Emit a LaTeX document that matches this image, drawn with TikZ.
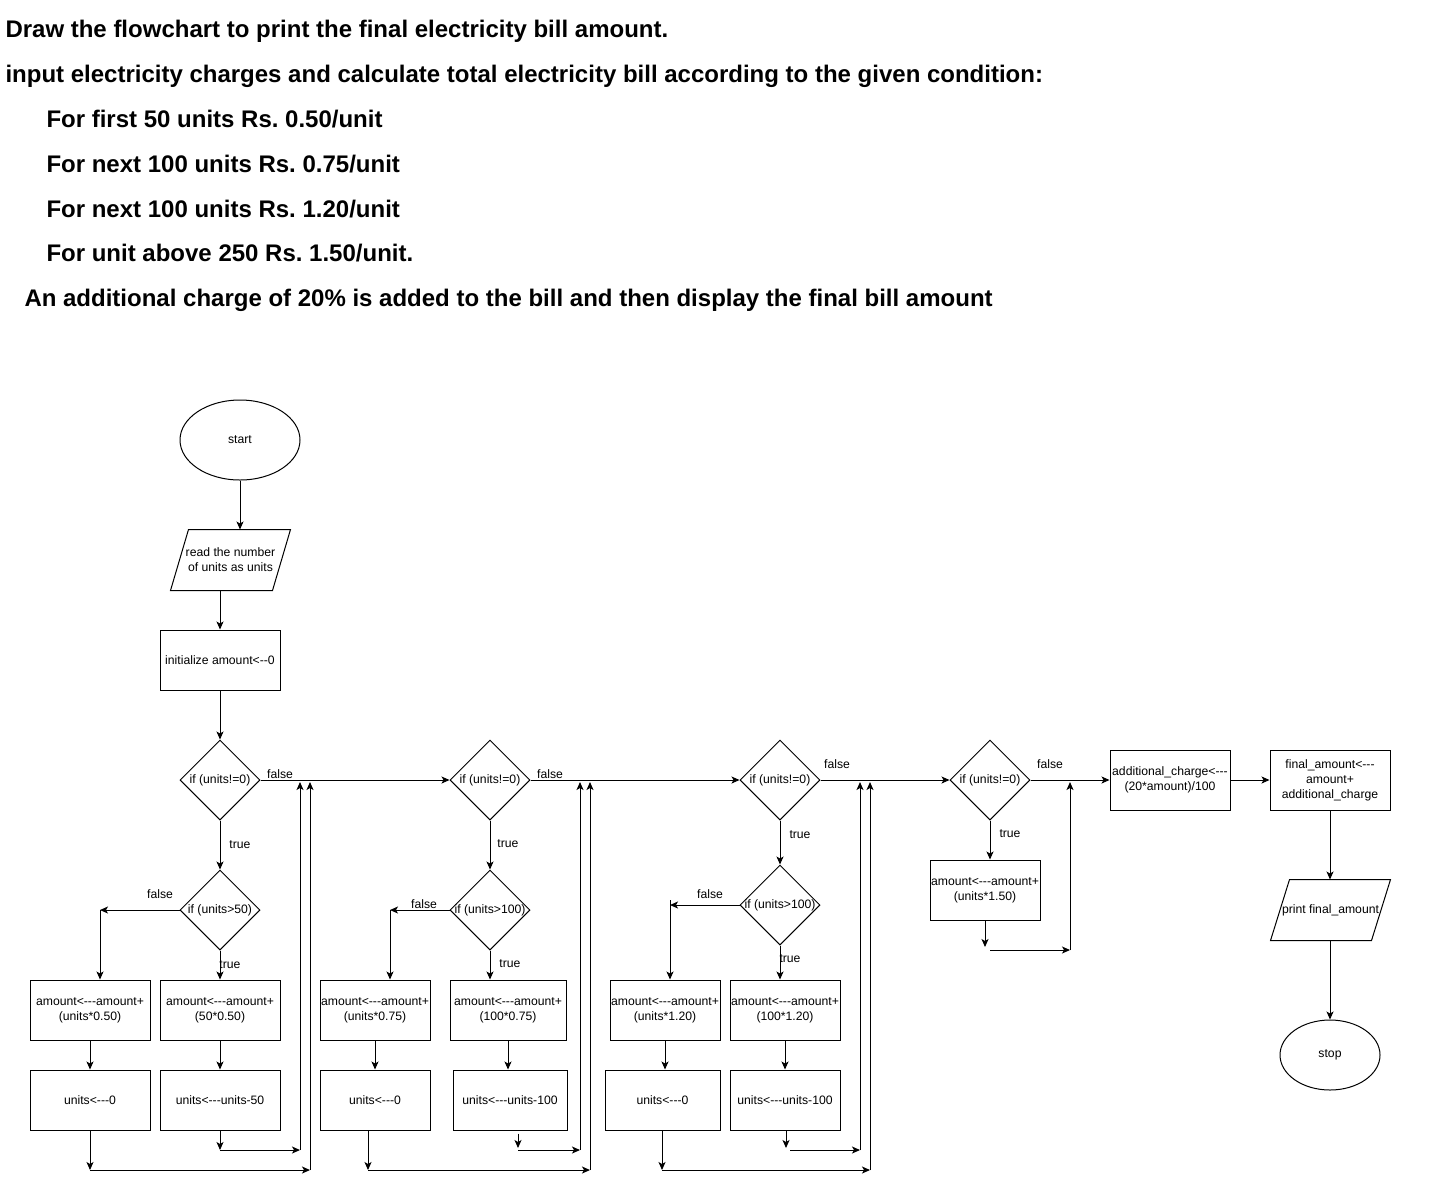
\documentclass[tikz,border=0pt]{standalone}
\usepackage{fontspec}
\setmainfont{Liberation Sans}[Ligatures=TeXOff]
\usetikzlibrary{arrows.meta,shapes.geometric}

\begin{document}
\frenchspacing
\begin{tikzpicture}[x=1pt,y=-1pt,
  line width=1pt,
  every node/.style={font=\fontsize{12.2}{15}\selectfont},
  arr/.style={-{Stealth[length=8pt,width=7pt,inset=2pt]}},
  proc/.style={draw, rectangle, minimum width=#1, minimum height=60pt, inner sep=0.5pt, align=center},
  proc/.default=120pt,
  dec/.style={draw, diamond, minimum width=80pt, minimum height=80pt, inner sep=0pt},
  term/.style={draw, ellipse, inner sep=0pt},
  io/.style={rectangle, minimum height=60pt, inner sep=0pt, align=center},
  lbl/.style={inner sep=0pt},
  head/.style={anchor=base west, inner sep=0pt, font=\fontsize{24}{28}\selectfont\bfseries}
]
\fill[white] (0,0) rectangle (1431,1179);
\useasboundingbox (0,0) rectangle (1431,1179);

% task statement
\node[head] (h1) at (5,37) {Draw the flowchart to print the final electricity bill amount.};
\node[head] (h2) at (5,82) {input electricity charges and calculate total electricity bill according to the given condition:};
\node[head] (h3) at (46,127) {For first 50 units Rs. 0.50/unit};
\node[head] (h4) at (46,172) {For next 100 units Rs. 0.75/unit};
\node[head] (h5) at (46,217) {For next 100 units Rs. 1.20/unit};
\node[head] (h6) at (46,261) {For unit above 250 Rs. 1.50/unit.};
\node[head] (h7) at (24,306) {An additional charge of 20\% is added to the bill and then display the final bill amount};

% start, input, initialisation
\node[term, minimum width=120pt, minimum height=80pt] (start) at (240,440) {start};
\node[io, minimum width=101pt] (read) at (230.5,560) {read the number\\of units as units};
\draw ([xshift=9pt]read.north west) -- ([xshift=9pt]read.north east) -- ([xshift=-9pt]read.south east) -- ([xshift=-9pt]read.south west) -- cycle;
\node[proc] (init) at (220,660) {initialize amount<--0};

% first slab: 50 units
\node[dec] (d1) at (220,780) {\makebox[0pt]{if (units!=0)}};
\node[dec] (d1b) at (220,910) {\makebox[0pt]{if (units>50)}};
\node[proc] (a1) at (90,1010) {amount<---amount+\\(units*0.50)};
\node[proc] (a2) at (220,1010) {amount<---amount+\\(50*0.50)};
\node[proc] (u1) at (90,1100) {units<---0};
\node[proc] (u2) at (220,1100) {units<---units-50};

% second slab: next 100 units
\node[dec] (d2) at (490,780) {\makebox[0pt]{if (units!=0)}};
\node[dec] (d2b) at (490,910) {\makebox[0pt]{if (units>100)}};
\node[proc=110pt] (b1) at (375,1010) {amount<---amount+\\(units*0.75)};
\node[proc=116pt] (b2) at (508,1010) {amount<---amount+\\(100*0.75)};
\node[proc=110pt] (v1) at (375,1100) {units<---0};
\node[proc=114pt] (v2) at (510,1100) {units<---units-100};

% third slab: next 100 units
\node[dec] (d3) at (780,780) {\makebox[0pt]{if (units!=0)}};
\node[dec] (d3b) at (780,905) {\makebox[0pt]{if (units>100)}};
\node[proc=110pt] (c1) at (665,1010) {amount<---amount+\\(units*1.20)};
\node[proc=110pt] (c2) at (785,1010) {amount<---amount+\\(100*1.20)};
\node[proc=115pt] (w1) at (662.5,1100) {units<---0};
\node[proc=110pt] (w2) at (785,1100) {units<---units-100};

% remaining units
\node[dec] (d4) at (990,780) {\makebox[0pt]{if (units!=0)}};
\node[proc=110pt] (e1) at (985,890) {amount<---amount+\\(units*1.50)};

% surcharge and output
\node[proc] (add) at (1170,780) {additional\_charge<---\\(20*amount)/100};
\node[proc] (fin) at (1330,780) {final\_amount<---\\amount+\\additional\_charge};
\node[io, minimum width=100pt] (prt) at (1330.5,910) {\makebox[0pt]{print final\_amount}};
\draw ([xshift=9.5pt]prt.north west) -- ([xshift=9.5pt]prt.north east) -- ([xshift=-9.5pt]prt.south east) -- ([xshift=-9.5pt]prt.south west) -- cycle;
\node[term, minimum width=100pt, minimum height=70pt] (stop) at (1330,1055) {stop};

% free ends of the merging connectors
\coordinate (k1) at (100,910);
\coordinate (p1) at (90,1170);  \coordinate (p1r) at (310,1170); \coordinate (p1t) at (310,782);
\coordinate (s1) at (220,1150); \coordinate (s1r) at (300,1150); \coordinate (s1t) at (300,782);
\coordinate (k2) at (390,910);
\coordinate (p2) at (368,1170); \coordinate (p2r) at (590,1170); \coordinate (p2t) at (590,782);
\coordinate (s2) at (518,1150); \coordinate (s2r) at (580,1150); \coordinate (s2t) at (580,782);
\coordinate (k3) at (670,905);
\coordinate (p3) at (662,1170); \coordinate (p3r) at (870,1170); \coordinate (p3t) at (870,782);
\coordinate (s3) at (786,1150); \coordinate (s3r) at (860,1150); \coordinate (s3t) at (860,782);
\coordinate (s4) at (985,950);  \coordinate (s4r) at (1070,950); \coordinate (s4t) at (1070,782);

% main flow
\draw[arr] (start.south) -- (start.south |- read.north);
\draw[arr] (init.north |- read.south) -- (init.north);
\draw[arr] (init.south) -- (d1.north);
\draw[arr] (d1.east) -- (d2.west);
\draw[arr] (d2.east) -- (d3.west);
\draw[arr] (d3.east) -- (d4.west);
\draw[arr] (d4.east) -- (add.west);
\draw[arr] (add.east) -- (fin.west);
\draw[arr] (fin.south) -- (fin.south |- prt.north);
\draw[arr] (prt.south -| stop.north) -- (stop.north);

% first slab
\draw[arr] (d1.south) -- (d1b.north);
\draw[arr] (d1b.west) -- (k1);
\draw[arr] (k1) -- (k1 |- a1.north);
\draw[arr] (d1b.south) -- (a2.north);
\draw[arr] (a1.south) -- (u1.north);
\draw[arr] (a2.south) -- (u2.north);
\draw[arr] (u1.south) -- (p1);
\draw[arr] (p1) -- (p1r);
\draw[arr] (p1r) -- (p1t);
\draw[arr] (u2.south) -- (s1);
\draw[arr] (s1) -- (s1r);
\draw[arr] (s1r) -- (s1t);

% second slab
\draw[arr] (d2.south) -- (d2b.north);
\draw[arr] (d2b.west) -- (k2);
\draw[arr] (k2) -- (k2 |- b1.north);
\draw[arr] (d2b.south) -- (d2b.south |- b2.north);
\draw[arr] (b1.south) -- (v1.north);
\draw[arr] (b2.south) -- (b2.south |- v2.north);
\draw[arr] (p2 |- v1.south) -- (p2);
\draw[arr] (p2) -- (p2r);
\draw[arr] (p2r) -- (p2t);
\draw[arr] ([yshift=-3pt]s2 |- v2.south) -- ([yshift=2pt]s2);
\draw[arr] (s2) -- (s2r);
\draw[arr] (s2r) -- (s2t);

% third slab
\draw[arr] (d3.south) -- (d3b.north);
\draw[arr] (d3b.west) -- (k3);
\draw[arr] ([yshift=5pt]k3) -- (k3 |- c1.north);
\draw[arr] (d3b.south) -- (d3b.south |- c2.north);
\draw[arr] (c1.south) -- (c1.south |- w1.north);
\draw[arr] (c2.south) -- (w2.north);
\draw[arr] (p3 |- w1.south) -- (p3);
\draw[arr] (p3) -- (p3r);
\draw[arr] (p3r) -- (p3t);
\draw[arr] (s3 |- w2.south) -- ([yshift=2pt]s3);
\draw[arr] ([xshift=4pt]s3) -- (s3r);
\draw[arr] (s3r) -- (s3t);

% remaining units
\draw[arr] (d4.south) -- (d4.south |- e1.north);
\draw[arr] (e1.south) -- ([yshift=3pt]s4);
\draw[arr] ([xshift=5pt]s4) -- (s4r);
\draw[arr] (s4r) -- (s4t);

% branch labels
\node[lbl] (l1) at (280,774) {false};
\node[lbl] (l2) at (240,845) {true};
\node[lbl] (l3) at (160,894) {false};
\node[lbl] (l4) at (230,965) {true};
\node[lbl] (l5) at (550,774) {false};
\node[lbl] (l6) at (508,844) {true};
\node[lbl] (l7) at (424,904) {false};
\node[lbl] (l8) at (510,964) {true};
\node[lbl] (l9) at (837,764) {false};
\node[lbl] (l10) at (800,835) {true};
\node[lbl] (l11) at (710,894) {false};
\node[lbl] (l12) at (790,959) {true};
\node[lbl] (l13) at (1050,764) {false};
\node[lbl] (l14) at (1010,834) {true};
\end{tikzpicture}
\end{document}
